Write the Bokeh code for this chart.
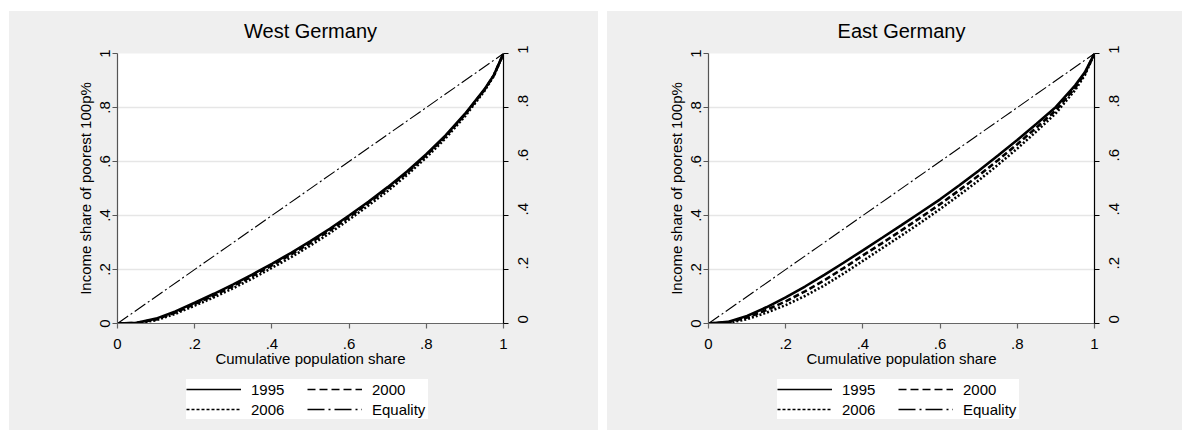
import math
from bokeh.plotting import figure
from bokeh.models import Range1d, FixedTicker, LinearAxis, Legend, LegendItem, Spacer, Label
from bokeh.layouts import row, column
from bokeh.embed import file_html
from bokeh.resources import INLINE

# ---------------- data ----------------
P = [0, 0.05, 0.1, 0.15, 0.2, 0.25, 0.3, 0.35, 0.4, 0.45, 0.5, 0.55,
     0.6, 0.65, 0.7, 0.75, 0.8, 0.85, 0.9, 0.95, 0.975, 1.0]

WEST_1995 = [0, 0.003, 0.018, 0.045, 0.077, 0.110, 0.145, 0.182, 0.221, 0.262, 0.305, 0.351,
             0.400, 0.451, 0.505, 0.563, 0.627, 0.697, 0.776, 0.866, 0.920, 1.0]
WEST_2000 = [0, 0.002, 0.015, 0.041, 0.072, 0.104, 0.139, 0.176, 0.215, 0.256, 0.299, 0.345,
             0.394, 0.446, 0.500, 0.558, 0.623, 0.693, 0.773, 0.864, 0.919, 1.0]
WEST_2006 = [0, 0.001, 0.012, 0.036, 0.066, 0.097, 0.131, 0.167, 0.206, 0.246, 0.289, 0.335,
             0.385, 0.437, 0.491, 0.550, 0.615, 0.686, 0.767, 0.860, 0.917, 1.0]

EAST_1995 = [0, 0.006, 0.028, 0.060, 0.097, 0.137, 0.180, 0.225, 0.271, 0.3175, 0.3645, 0.412,
             0.460, 0.512, 0.566, 0.622, 0.680, 0.740, 0.802, 0.882, 0.930, 1.0]
EAST_2000 = [0, 0.004, 0.022, 0.050, 0.082, 0.119, 0.160, 0.205, 0.252, 0.298, 0.345, 0.393,
             0.442, 0.494, 0.548, 0.605, 0.664, 0.726, 0.790, 0.873, 0.925, 1.0]
EAST_2006 = [0, 0.002, 0.016, 0.040, 0.068, 0.102, 0.141, 0.185, 0.232, 0.279, 0.326, 0.374,
             0.424, 0.476, 0.530, 0.588, 0.648, 0.712, 0.779, 0.865, 0.920, 1.0]

EQUALITY_X = [0, 1]
EQUALITY_Y = [0, 1]

SERIES_LABELS = ["1995", "2000", "2006", "Equality"]
TICKS = [0, 0.2, 0.4, 0.6, 0.8, 1]
TICK_LABELS = ["0", ".2", ".4", ".6", ".8", "1"]
TITLES = ["West Germany", "East Germany"]
X_TITLE = "Cumulative population share"
Y_TITLE = "Income share of poorest 100p%"

# ---------------- styling ----------------
FONT = "Liberation Sans"
BG = "#efefef"
GRID = "#e6e6e6"
CURVE_DASH = ["solid", "6 3", "2 2"]
LEGEND_DASH = ["solid", "8 4", "3 2", "17 4 2 4"]
EQ_DASH = "13 3 2 3"
TITLE_H = 34
MAIN_H = 327
LEG_H = 58


def style_axis(ax, line_color):
    ax.ticker = FixedTicker(ticks=TICKS)
    ax.major_label_overrides = dict(zip(TICKS, TICK_LABELS))
    ax.axis_line_color = line_color
    ax.axis_line_width = 1.2
    ax.major_tick_line_color = line_color
    ax.major_tick_line_width = 1.2
    ax.major_tick_in = 0
    ax.major_tick_out = 5
    ax.minor_tick_line_color = None
    ax.major_label_text_font = FONT
    ax.major_label_text_font_size = "15px"
    ax.major_label_text_color = "black"
    ax.axis_label_text_font = FONT
    ax.axis_label_text_font_size = "15px"
    ax.axis_label_text_font_style = "normal"
    ax.axis_label_text_color = "black"


def strip(width, height, xr, yr):
    return figure(width=width, height=height, output_backend="svg", toolbar_location=None,
                  x_range=xr, y_range=yr, x_axis_type=None, y_axis_type=None,
                  min_border=0, min_border_left=0, min_border_right=0,
                  min_border_top=0, min_border_bottom=0,
                  background_fill_color=BG, background_fill_alpha=1.0,
                  border_fill_color=BG, outline_line_color=None)


def make_panel(title, curves, width, left, right):
    # title strip
    tf = strip(width, TITLE_H, Range1d(0, 1), Range1d(0, 1))
    tf.add_layout(Label(x=0.5, y=0.44, text=title, text_align="center",
                        text_baseline="middle", text_font=FONT, text_font_size="20px",
                        text_color="black"))

    p = figure(width=width, height=MAIN_H, output_backend="svg", toolbar_location=None,
               x_range=Range1d(0, 1), y_range=Range1d(0, 1),
               min_border_left=left, min_border_right=right,
               min_border_top=8, min_border_bottom=MAIN_H - 8 - 270,
               background_fill_color="white", border_fill_color=BG,
               outline_line_color=None)

    p.xgrid.visible = False
    p.ygrid.ticker = FixedTicker(ticks=TICKS)
    p.ygrid.grid_line_color = GRID
    p.ygrid.grid_line_width = 1.5

    style_axis(p.xaxis[0], "#666666")
    p.xaxis[0].axis_label = X_TITLE
    p.xaxis[0].major_label_standoff = 10
    p.xaxis[0].axis_label_standoff = -2

    style_axis(p.yaxis[0], "#555555")
    p.yaxis[0].axis_label = Y_TITLE
    p.yaxis[0].major_label_orientation = "vertical"
    p.yaxis[0].major_label_standoff = 3
    p.yaxis[0].axis_label_standoff = 3

    rax = LinearAxis()
    style_axis(rax, "black")
    rax.major_label_orientation = math.pi / 2
    rax.major_label_standoff = 14
    p.add_layout(rax, "right")

    for ys, dash in zip(curves, CURVE_DASH):
        p.line(P, ys, line_color="black", line_width=2.6, line_dash=dash)
    p.line(EQUALITY_X, EQUALITY_Y, line_color="black", line_width=1.1, line_dash=EQ_DASH)

    # legend strip; its ranges lie away from the data so samples only show in the legend
    lf = strip(width, LEG_H, Range1d(2, 3), Range1d(2, 3))
    items = []
    samples = list(curves) + [EQUALITY_Y]
    xs_list = [P, P, P, EQUALITY_X]
    for lab, dash, xs, ys in zip(SERIES_LABELS, LEGEND_DASH, xs_list, samples):
        r = lf.line(xs, ys, line_color="black", line_width=1.3, line_dash=dash)
        items.append(LegendItem(label=lab, renderers=[r]))
    legend = Legend(items=items, location=(69, 11), orientation="horizontal",
                    ncols=2, glyph_width=55, glyph_height=20, label_height=20,
                    label_width=56, label_standoff=10, spacing=0, padding=3, margin=0,
                    label_text_font=FONT, label_text_font_size="15px",
                    label_text_color="black",
                    background_fill_color="white", background_fill_alpha=1.0,
                    border_line_color=None)
    lf.add_layout(legend)
    return column(tf, p, lf, spacing=0, styles={"background-color": BG})


west = make_panel(TITLES[0], [WEST_1995, WEST_2000, WEST_2006], 589, 108, 95)
east = make_panel(TITLES[1], [EAST_1995, EAST_2000, EAST_2006], 575, 101, 88)

layout = column(Spacer(height=11),
                row(Spacer(width=9), west, Spacer(width=9), east, spacing=0),
                spacing=0)

open("out.html", "w").write(file_html(layout, INLINE))
